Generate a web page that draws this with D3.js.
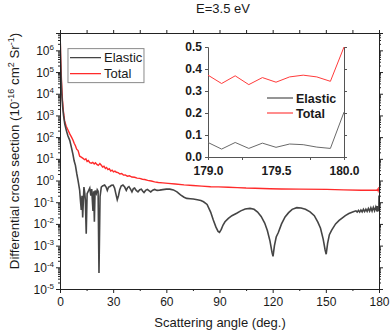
<!DOCTYPE html>
<html>
<head>
<meta charset="utf-8">
<script src="https://d3js.org/d3.v7.min.js"></script>
<style>
  body { margin: 0; background: #fff; }
  svg text { font-family: "Liberation Sans", Arial, sans-serif; fill: #1a1a1a; }
</style>
</head>
<body>
<svg width="390" height="332"></svg>
<script>
// ---- data ----
// main panel, elastic DCS (angle in deg., value in 1e-16 cm2/Sr)
var elasticAngle = [0, 0.3, 0.6, 1.0, 1.5, 2.0, 2.7, 3.6, 4.5, 5.5, 6.5, 7.3, 8.0, 8.7, 9.5, 10.2, 10.8, 11.1, 11.5, 12.0,
  12.4, 12.8, 13.5, 14.0, 14.3, 14.8, 15.3, 16.2, 16.8, 17.4, 17.9, 18.6, 19.0, 19.4, 19.8, 20.5, 21.0, 21.5, 22.0, 22.6,
  23.3, 24.0, 25.2, 26.0, 26.7, 27.4, 28.0, 29.0, 30.0, 30.8, 31.5, 32.3, 33.0, 33.7, 34.5, 35.5, 36.5, 37.4, 38.2, 38.9,
  39.8, 40.6, 41.4, 42.1, 43.0, 44.0, 45.0, 45.9, 46.7, 47.4, 48.3, 49.3, 50.2, 51.2, 52.3, 53.4, 54.8, 56.2, 58, 60,
  62, 64, 66, 68, 70, 71.5, 73.5, 75.2, 77.5, 79.5, 81, 83, 85, 86.5, 88, 89.2, 90, 91, 92, 93.1,
  95, 97, 99.7, 102, 104.5, 107.2, 109.5, 111.5, 113.5, 115.5, 117, 118.5, 119.6, 120.2, 121, 122, 123.2, 125, 127, 129,
  131, 133.6, 136, 138.5, 141.1, 143.5, 145.5, 147, 148.5, 149.6, 150.2, 151, 152, 153.3, 155.5, 157.5, 159, 161, 163, 165.5,
  167, 167.7, 168.4, 169.1, 169.8, 170.5, 171.2, 171.9, 172.6, 173.3, 174, 174.7, 175.4, 176.1, 176.8, 177.5, 178.2, 178.9];
var elasticValue = [7.9e6, 4.0e5, 6.3e4, 1.0e4, 2.5e3, 1.0e3, 400, 200, 112, 71, 32, 16, 7.9, 5.0, 2.0, 1.0, 0.50, 0.35, 0.13, 0.044,
  0.20, 0.020, 0.50, 0.25, 0.13, 0.0035, 0.25, 0.35, 0.45, 0.20, 0.40, 0.040, 0.32, 0.0126, 0.35, 0.25, 0.38, 0.32, 5.4e-5, 0.18,
  0.50, 0.56, 0.62, 0.50, 0.35, 0.50, 0.52, 0.60, 0.62, 0.45, 0.25, 0.13, 0.20, 0.38, 0.56, 0.62, 0.50, 0.35, 0.48, 0.52,
  0.40, 0.30, 0.42, 0.45, 0.35, 0.30, 0.38, 0.40, 0.32, 0.28, 0.35, 0.39, 0.34, 0.30, 0.36, 0.39, 0.35, 0.36, 0.38, 0.40,
  0.40, 0.37, 0.30, 0.22, 0.17, 0.15, 0.145, 0.14, 0.13, 0.12, 0.105, 0.079, 0.035, 0.015, 0.0071, 0.0045, 0.0041, 0.0056, 0.0089, 0.0126,
  0.018, 0.024, 0.031, 0.040, 0.049, 0.052, 0.047, 0.035, 0.022, 0.011, 0.005, 0.0016, 0.0005, 0.00032, 0.001, 0.0025, 0.004, 0.010, 0.021, 0.033,
  0.047, 0.056, 0.054, 0.047, 0.036, 0.024, 0.012, 0.0063, 0.002, 0.00063, 0.0004, 0.00126, 0.0032, 0.0052, 0.010, 0.0145, 0.018, 0.024, 0.030, 0.036,
  0.040, 0.035, 0.042, 0.035, 0.044, 0.036, 0.047, 0.037, 0.048, 0.038, 0.052, 0.039, 0.055, 0.039, 0.058, 0.040, 0.060, 0.038];

// main panel, total DCS
var totalAngle = [0, 0.3, 0.6, 1.0, 1.4, 1.9, 2.6, 3.5, 4.5, 5.5, 6.5, 7.3, 8.0, 8.7, 9.4, 10.2, 11.1, 12.0, 13.0, 13.9,
  14.6, 15.3, 16.0, 16.8, 17.7, 18.5, 19.3, 20.0, 20.8, 21.6, 22.5, 23.3, 24.0, 24.8, 25.6, 26.3, 27.0, 27.8, 28.6, 29.4,
  30.2, 31.0, 31.8, 32.8, 33.8, 34.8, 35.8, 36.8, 38.0, 39.2, 40.5, 42.1, 43.5, 45.0, 46.5, 47.8, 49.5, 51.5, 53.4, 55.5,
  58, 61, 65, 70, 75, 80, 85, 89.3, 95, 100, 105, 110, 118.5, 125, 135, 150.5, 160, 170, 178.9];
var totalValue = [1.0e7, 7.9e5, 1.26e5, 2.0e4, 5.0e3, 1.6e3, 560, 320, 214, 141, 100, 74, 52, 40, 28, 24, 13.2, 12, 10.5, 9.1,
  10, 7.6, 8.3, 6.6, 6.3, 6.9, 5.8, 6.6, 5.5, 5.0, 6.0, 5.1, 4.2, 4.6, 3.6, 4.0, 3.2, 3.5, 2.75, 3.0,
  2.5, 2.7, 2.4, 2.3, 2.0, 2.1, 1.78, 1.82, 1.58, 1.66, 1.45, 1.41, 1.29, 1.26, 1.15, 1.12, 1.02, 0.95, 0.87, 0.81,
  0.78, 0.74, 0.69, 0.63, 0.59, 0.55, 0.52, 0.51, 0.49, 0.47, 0.45, 0.44, 0.42, 0.41, 0.40, 0.39, 0.37, 0.355, 0.36];

// inset, 179-180 deg
var insetAngle = [179.0, 179.1, 179.2, 179.3, 179.4, 179.5, 179.6, 179.7, 179.8, 179.9, 180.0];
var insetElastic = [0.066, 0.036, 0.066, 0.039, 0.063, 0.044, 0.059, 0.056, 0.045, 0.039, 0.204];
var insetTotal = [0.372, 0.334, 0.369, 0.329, 0.361, 0.340, 0.364, 0.372, 0.364, 0.344, 0.500];

var xTicks = [0, 30, 60, 90, 120, 150, 180];
var yDecades = [-5, -4, -3, -2, -1, 0, 1, 2, 3, 4, 5, 6];
var insetXTicks = [179.0, 179.5, 180.0];
var insetYTicks = [0.0, 0.1, 0.2, 0.3, 0.4, 0.5];
var seriesNames = ["Elastic", "Total"];
var mainColors = ["#454545", "#ff2b2b"];
var insetColors = ["#6a6a6a", "#ff3b3b"];
var insetLegendColors = ["#8a8a8a", "#ff8080"];

// ---- layout ----
var margin = {top: 33, right: 11, bottom: 43, left: 60},
    width = 390 - margin.left - margin.right,
    height = 332 - margin.top - margin.bottom;

var svg = d3.select("svg");
var g = svg.append("g")
    .attr("transform", "translate(" + margin.left + "," + margin.top + ")");

var x = d3.scaleLinear().domain([0, 180]).range([0, width]);
var y = d3.scaleLog().domain([1e-5, Math.pow(10, 6.8)]).range([height, 0]);

// minor log ticks
var yMinor = [];
yDecades.forEach(function(e) {
  for (var k = 2; k <= 9; k++) {
    var v = k * Math.pow(10, e);
    if (v < y.domain()[1]) yMinor.push(v);
  }
});
var yMajor = yDecades.map(function(e) { return Math.pow(10, e); });

g.append("clipPath").attr("id", "clip")
  .append("rect").attr("width", width).attr("height", height);

// curves
var line = d3.line()
    .x(function(d) { return x(d[0]); })
    .y(function(d) { return y(d[1]); });

var elasticData = d3.zip(elasticAngle.concat(insetAngle), elasticValue.concat(insetElastic));
var totalData = d3.zip(totalAngle.concat(insetAngle), totalValue.concat(insetTotal));

g.append("path")
  .datum(totalData)
  .attr("clip-path", "url(#clip)")
  .attr("fill", "none")
  .attr("stroke", mainColors[1])
  .attr("stroke-width", 1.4)
  .attr("d", line);

g.append("path")
  .datum(elasticData)
  .attr("clip-path", "url(#clip)")
  .attr("fill", "none")
  .attr("stroke", mainColors[0])
  .attr("stroke-width", 1.6)
  .attr("d", line);

// axes
function styleAxis(sel) {
  sel.selectAll(".domain").attr("stroke", "#222").attr("stroke-width", 1);
  sel.selectAll(".tick line").attr("stroke", "#222");
  sel.selectAll(".tick text").attr("font-size", 12).attr("fill", "#1a1a1a")
    .style("font-family", "'Liberation Sans', Arial, sans-serif");
}

var xb = g.append("g").attr("transform", "translate(0," + height + ")")
  .call(d3.axisBottom(x).tickValues(xTicks).tickSize(4).tickPadding(4).tickFormat(d3.format("d")));
styleAxis(xb);
g.append("g").attr("transform", "translate(0," + height + ")")
  .call(d3.axisBottom(x).tickValues([15, 45, 75, 105, 135, 165]).tickSize(2).tickFormat(""))
  .call(styleAxis)
  .select(".domain").remove();

var xt = g.append("g")
  .call(d3.axisTop(x).tickValues(d3.range(0, 181, 15)).tickSize(3).tickFormat(""));
styleAxis(xt);

var yl = g.append("g")
  .call(d3.axisLeft(y).tickValues(yMajor).tickSize(4).tickFormat(""));
styleAxis(yl);
g.append("g").call(d3.axisLeft(y).tickValues(yMinor).tickSize(2).tickFormat(""))
  .call(styleAxis).select(".domain").remove();

var yr = g.append("g").attr("transform", "translate(" + width + ",0)")
  .call(d3.axisRight(y).tickValues(yMajor).tickSize(4).tickFormat(""));
styleAxis(yr);
g.append("g").attr("transform", "translate(" + width + ",0)")
  .call(d3.axisRight(y).tickValues(yMinor).tickSize(2).tickFormat(""))
  .call(styleAxis).select(".domain").remove();

// y labels 10^n with superscripts
var ylab = g.append("g").selectAll("text")
  .data(yDecades)
  .enter().append("text")
  .attr("x", -6)
  .attr("y", function(d) { return y(Math.pow(10, d)) + 4.5; })
  .attr("text-anchor", "end")
  .attr("font-size", 12);
ylab.append("tspan").text("10");
ylab.append("tspan").attr("font-size", 8).attr("dy", -5).text(function(d) { return d < 0 ? "-" + (-d) : d; });

// axis titles
svg.append("text")
  .attr("x", margin.left + width / 2 + 0.5)
  .attr("y", 327)
  .attr("text-anchor", "middle")
  .attr("font-size", 13)
  .text("Scattering angle (deg.)");

var yt = svg.append("text")
  .attr("transform", "translate(19,151) rotate(-90)")
  .attr("text-anchor", "middle")
  .attr("font-size", 13.3);
yt.append("tspan").text("Differential cross section (10");
yt.append("tspan").attr("font-size", 9).attr("dy", -5).text("-16");
yt.append("tspan").attr("dy", 5).text(" cm");
yt.append("tspan").attr("font-size", 9).attr("dy", -5).text("2");
yt.append("tspan").attr("dy", 5).text(" Sr");
yt.append("tspan").attr("font-size", 9).attr("dy", -5).text("-1");
yt.append("tspan").attr("dy", 5).text(")");

svg.append("text")
  .attr("x", 223)
  .attr("y", 13)
  .attr("text-anchor", "middle")
  .attr("font-size", 13)
  .text("E=3.5 eV");

// main legend
var leg = g.append("g").attr("transform", "translate(" + (x(4.5)) + "," + (y(Math.pow(10, 6.08))) + ")");
leg.append("rect")
  .attr("width", 76).attr("height", 34)
  .attr("fill", "#fff").attr("stroke", "#8a8a8a").attr("stroke-width", 1);
seriesNames.forEach(function(name, i) {
  leg.append("line")
    .attr("x1", 2).attr("x2", 33)
    .attr("y1", 9 + i * 16).attr("y2", 9 + i * 16)
    .attr("stroke", mainColors[i]).attr("stroke-width", 1.3);
  leg.append("text")
    .attr("x", 36).attr("y", 13.5 + i * 16)
    .attr("font-size", 13)
    .text(name);
});

// ---- inset ----
var inset = {left: 208, top: 47, width: 136, height: 110};
var ig = svg.append("g").attr("transform", "translate(" + inset.left + "," + inset.top + ")");
var ix = d3.scaleLinear().domain([179, 180]).range([0, inset.width]);
var iy = d3.scaleLinear().domain([0, 0.5]).range([inset.height, 0]);

function boldAxis(sel) {
  sel.selectAll(".domain").attr("stroke", "#555").attr("stroke-width", 1);
  sel.selectAll(".tick line").attr("stroke", "#555");
  sel.selectAll(".tick text").attr("font-size", 12).attr("font-weight", "bold").attr("fill", "#111")
    .style("font-family", "'Liberation Sans', Arial, sans-serif");
}

ig.append("g").attr("transform", "translate(0," + inset.height + ")")
  .call(d3.axisBottom(ix).tickValues([179.25, 179.75]).tickSize(3).tickFormat(""))
  .call(boldAxis);
ig.append("g").attr("transform", "translate(0," + inset.height + ")")
  .call(d3.axisBottom(ix).tickValues(insetXTicks).tickSize(0).tickPadding(9).tickFormat(d3.format(".1f")))
  .call(boldAxis).select(".domain").remove();
ig.append("g")
  .call(d3.axisLeft(iy).tickValues(insetYTicks).tickSize(3).tickPadding(3).tickFormat(d3.format(".1f")))
  .call(boldAxis);
ig.append("g").attr("transform", "translate(" + inset.width + ",0)")
  .call(d3.axisLeft(iy).tickValues(insetYTicks).tickSize(-3).tickFormat(""))
  .call(boldAxis);

var iline = d3.line()
    .x(function(d) { return ix(d[0]); })
    .y(function(d) { return iy(d[1]); });

[insetElastic, insetTotal].forEach(function(vals, i) {
  ig.append("path")
    .datum(d3.zip(insetAngle, vals))
    .attr("fill", "none")
    .attr("stroke", insetColors[i])
    .attr("stroke-width", 1)
    .attr("d", iline);
});

// inset legend
seriesNames.forEach(function(name, i) {
  ig.append("line")
    .attr("x1", 59).attr("x2", 85)
    .attr("y1", 51 + i * 15).attr("y2", 51 + i * 15)
    .attr("stroke", insetLegendColors[i]).attr("stroke-width", 1.8);
  ig.append("text")
    .attr("x", 88).attr("y", 55.5 + i * 15)
    .attr("font-size", 12.5)
    .attr("font-weight", "bold")
    .text(name);
});
</script>
</body>
</html>
